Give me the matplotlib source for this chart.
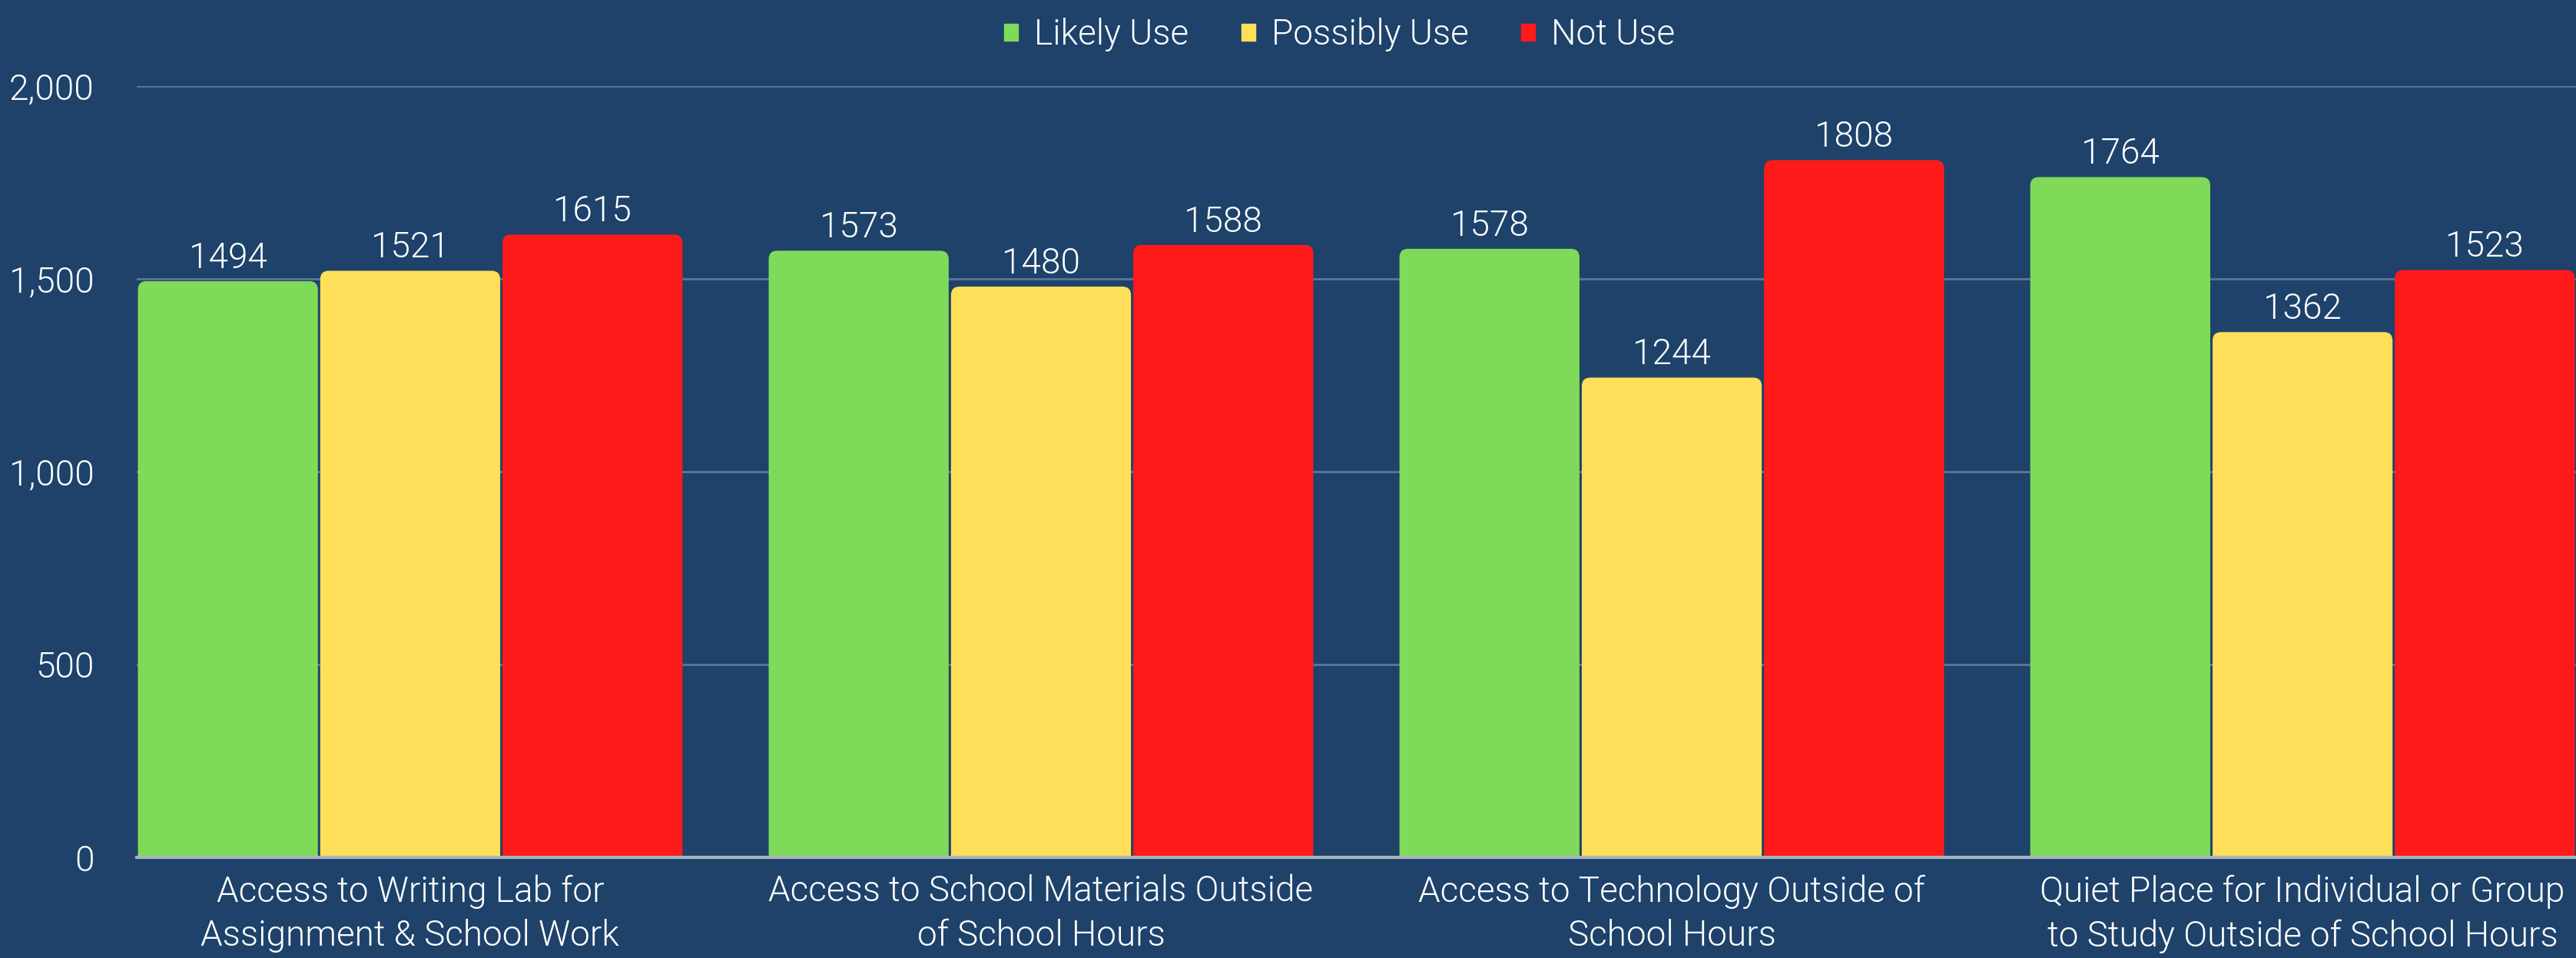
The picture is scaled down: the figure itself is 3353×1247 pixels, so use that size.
import matplotlib.pyplot as plt
import numpy as np
from matplotlib.patches import FancyBboxPatch, Patch
from matplotlib.ticker import FuncFormatter

categories = ['Access to Writing Lab for\nAssignment & School Work',
              'Access to School Materials Outside\nof School Hours',
              'Access to Technology Outside of\nSchool Hours',
              'Quiet Place for Individual or Group\nto Study Outside of School Hours']
series_names = ['Likely Use', 'Possibly Use', 'Not Use']
likely_use = [1494, 1573, 1578, 1764]
possibly_use = [1521, 1480, 1244, 1362]
not_use = [1615, 1588, 1808, 1523]
colors = ['#7FDA5A', '#FFDF5A', '#FF1A1A']

bg = '#1E426A'
plt.rcParams['font.family'] = ['Roboto', 'DejaVu Sans']
fw = 300
fs = 33

fig = plt.figure(figsize=(33.53, 12.47), dpi=100, facecolor=bg)
ax = fig.add_axes([178 / 3353, 1 - 1116 / 1247, 1 - 178 / 3353, (1116 - 112) / 1247])
ax.set_facecolor(bg)

x = np.arange(len(categories))
w = 0.289
ax.set_xlim(-1.5 * w, len(categories) - 1 + 1.5 * w)
ax.set_ylim(0, 2000)

# rounded top corners: radius in px converted to data units
r_px = 11
xs_per_px = (ax.get_xlim()[1] - ax.get_xlim()[0]) / (3353 - 178)
ys_per_px = 2000 / (1116 - 112)
aspect = ys_per_px / xs_per_px

for i, (vals, c, name) in enumerate(zip([likely_use, possibly_use, not_use], colors, series_names)):
    bars = ax.bar(x + (i - 1) * w, vals, w, color=c, zorder=2)
    for b, v in zip(bars, vals):
        b.set_visible(False)
        gap = 1.5 * xs_per_px
        p = FancyBboxPatch((b.get_x() + gap, -r_px * ys_per_px), b.get_width() - 2 * gap,
                           v + r_px * ys_per_px,
                           boxstyle='round,pad=0,rounding_size=%f' % (r_px * xs_per_px),
                           mutation_aspect=aspect, fc=c, ec='none', zorder=2)
        ax.add_patch(p)
        ax.text(b.get_x() + b.get_width() / 2, v + 16, str(v), ha='center', va='bottom',
                color='white', fontsize=fs, fontweight=fw, zorder=3)

ax.set_yticks([0, 500, 1000, 1500, 2000])
ax.yaxis.set_major_formatter(FuncFormatter(lambda v, p: f'{int(v):,}'))
ax.grid(axis='y', color='#5A7897', linewidth=2, zorder=0)
ax.set_axisbelow(True)
for s in ['top', 'right', 'left']:
    ax.spines[s].set_visible(False)
ax.spines['bottom'].set_color('#A9B4C2')
ax.spines['bottom'].set_linewidth(3)
ax.spines['bottom'].set_zorder(4)
ax.tick_params(axis='both', length=0, colors='white', labelsize=fs)
ax.tick_params(axis='y', pad=40)
ax.tick_params(axis='x', pad=16)
ax.set_xticks(x)
ax.set_xticklabels(categories, linespacing=1.38)
for t in ax.get_xticklabels() + ax.get_yticklabels():
    t.set_fontweight(fw)

handles = [Patch(color=c, label=n) for c, n in zip(colors, series_names)]
leg = fig.legend(handles=handles, loc='upper center', bbox_to_anchor=(0.52, 1.015), ncol=3,
                 frameon=False, prop={'size': fs, 'weight': fw}, labelcolor='white',
                 handlelength=0.4, handleheight=0.36, handletextpad=0.45, columnspacing=1.5)

fig.savefig('out.png', dpi=100, facecolor=bg)
